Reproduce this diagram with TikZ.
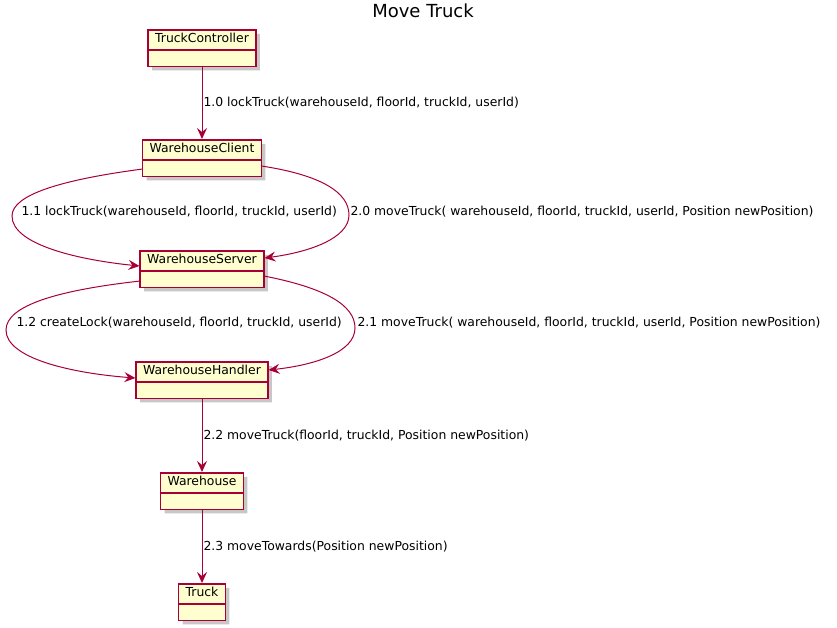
\documentclass[tikz,border=0pt]{standalone}
\usepackage{fontspec}
\setmainfont{DejaVu Sans}
\usetikzlibrary{shapes.multipart,shadows,arrows.meta}
\definecolor{objfill}{HTML}{FEFECE}
\definecolor{objline}{HTML}{A80036}
\begin{document}
\begin{tikzpicture}[x=1pt,y=-1pt,
	obj/.style={rectangle split, rectangle split parts=2, draw=objline, line width=1.5pt, fill=objfill, anchor=north, inner xsep=7pt, inner ysep=2pt, rectangle split empty part height=11pt, font=\fontsize{12.4}{14.6}\selectfont, drop shadow={shadow xshift=4pt, shadow yshift=-4pt, fill=black!55, opacity=0.4}},
	msg/.style={draw=objline, line width=1pt, -{Stealth[length=11pt,width=10pt,inset=4pt]}},
	lbl/.style={anchor=west, inner sep=0pt, font=\fontsize{12.4}{14.6}\selectfont}]

	\useasboundingbox (0,0) rectangle (837,627);
	\node (title) at (423,11) {\fontsize{18}{20}\selectfont Move Truck};

	\node[obj] (tc) at (202,29) {\strut TruckController \nodepart{two}};
	\node[obj] (wc) at (202,139) {\strut WarehouseClient \nodepart{two}};
	\node[obj] (ws) at (202,250) {\strut WarehouseServer \nodepart{two}};
	\node[obj] (wh) at (202,361) {\strut WarehouseHandler \nodepart{two}};
	\node[obj] (wa) at (202,472) {\strut Warehouse \nodepart{two}};
	\node[obj] (tr) at (202,583) {\strut Truck \nodepart{two}};

	\draw[msg] (tc) -- node[lbl, xshift=1pt]{1.0 lockTruck(warehouseId, floorId, truckId, userId)} (wc);
	\draw[msg] ([yshift=8pt]wc.south west) .. controls (60,180) and (12,195) .. (12,216) node[lbl, xshift=9pt, yshift=4pt]{1.1 lockTruck(warehouseId, floorId, truckId, userId)} .. controls (12,245) and (80,260) .. ([yshift=-16pt]ws.north west);
	\draw[msg] ([yshift=11pt]wc.south east) .. controls (320,175) and (349,192) .. (349,215) node[lbl, xshift=1pt, yshift=3pt]{2.0 moveTruck( warehouseId, floorId, truckId, userId, Position newPosition)} .. controls (349,238) and (310,252) .. ([yshift=-8pt]ws.north east);
	\draw[msg] ([yshift=7pt]ws.south west) .. controls (60,290) and (6,305) .. (6,330) node[lbl, xshift=10pt, yshift=7pt]{1.2 createLock(warehouseId, floorId, truckId, userId)} .. controls (6,358) and (70,373) .. ([yshift=-17pt]wh.north west);
	\draw[msg] ([yshift=12pt]ws.south east) .. controls (325,288) and (355,305) .. (355,328) node[lbl, xshift=2pt, yshift=5pt]{2.1 moveTruck( warehouseId, floorId, truckId, userId, Position newPosition)} .. controls (355,352) and (315,365) .. ([yshift=-9pt]wh.north east);
	\draw[msg] (wh) -- node[lbl, xshift=1pt]{2.2 moveTruck(floorId, truckId, Position newPosition)} (wa);
	\draw[msg] (wa) -- node[lbl, xshift=1pt]{2.3 moveTowards(Position newPosition)} (tr);
\end{tikzpicture}
\end{document}
